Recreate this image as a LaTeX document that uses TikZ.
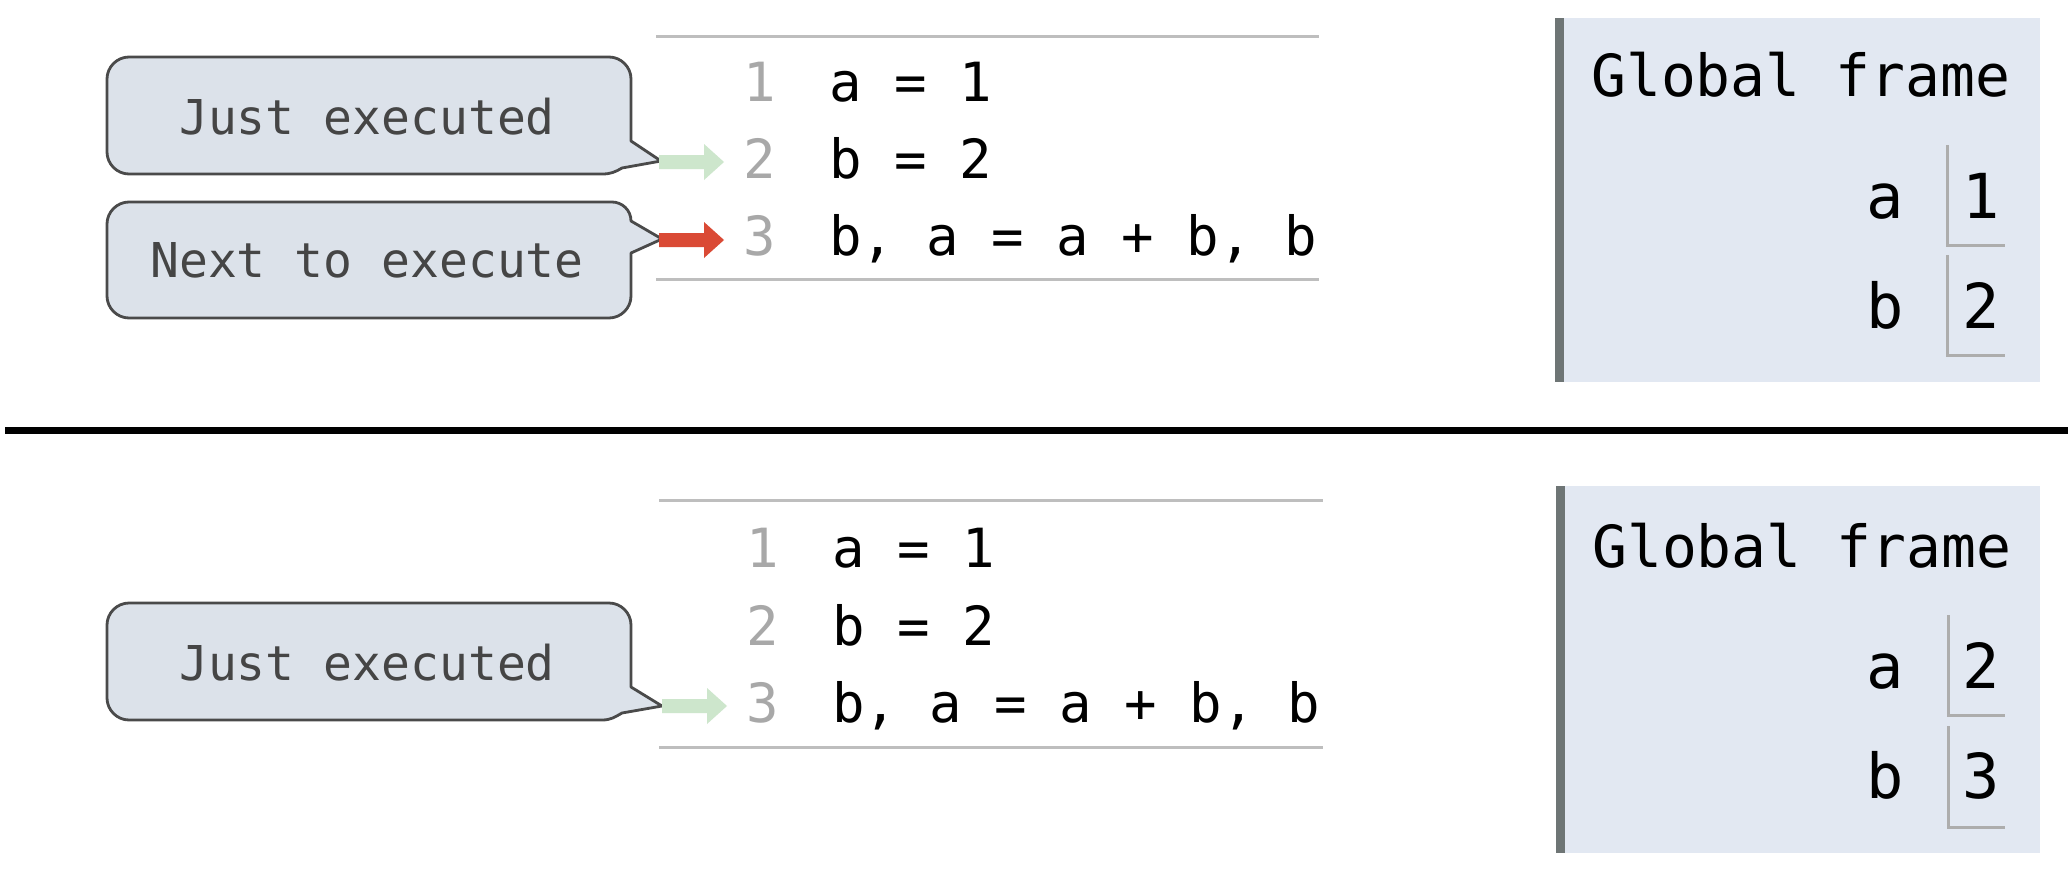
\documentclass[tikz,border=0pt]{standalone}
\usepackage{fontspec}
\newfontfamily\dvm{DejaVu Sans Mono}
\definecolor{cfill}{HTML}{DCE2EA}
\definecolor{cline}{HTML}{4A4A4A}
\definecolor{ctext}{HTML}{454545}
\definecolor{pfill}{HTML}{E2E8F2}
\definecolor{pbar}{HTML}{6E7575}
\definecolor{rule}{HTML}{BEBEBE}
\definecolor{lnumc}{HTML}{A8A8A8}
\definecolor{vline}{HTML}{ADADAD}
\definecolor{jgreen}{HTML}{CDE6CC}
\definecolor{nred}{HTML}{DA4A35}
\tikzset{
  cbox/.style={draw=cline, fill=cfill, line width=2.8pt, line join=round},
  ctxt/.style={anchor=base, inner sep=0pt, text=ctext, font=\dvm\fontsize{48}{50}\selectfont},
  code/.style={anchor=base west, inner sep=0pt, text=black, font=\dvm\fontsize{54}{56}\selectfont},
  lnum/.style={anchor=base, inner sep=0pt, text=lnumc, font=\dvm\fontsize{54}{56}\selectfont},
  coderule/.style={draw=rule, line width=3pt},
  ftitle/.style={anchor=base west, inner sep=0pt, text=black, font=\dvm\fontsize{58}{60}\selectfont},
  fvar/.style={anchor=base, inner sep=0pt, text=black, font=\dvm\fontsize{62}{64}\selectfont},
  vbox/.style={draw=vline, line width=3pt},
  blockarr/.pic={\path[pic actions] (0,-7) -- (45,-7) -- (45,-18) -- (65,0) -- (45,18) -- (45,7) -- (0,7) -- cycle;}
}
\begin{document}
\begin{tikzpicture}[x=1pt,y=-1pt]
\useasboundingbox (0,0) rectangle (2068,872);
\fill[white] (0,0) rectangle (2068,872);
\frenchspacing
% ---------------- top half ----------------
% callouts
\draw[cbox] (300,57) -- (609,57) .. controls (621,57) and (631,67) .. (631,79) -- (631,141) -- (661,161) -- (622,168) .. controls (615,172) and (611,174) .. (602,174) -- (129,174) .. controls (117,174) and (107,164) .. (107,152) -- (107,79) .. controls (107,67) and (117,57) .. (129,57) -- cycle;
\node[ctxt] (je1) at (367,135) {Just executed};
\draw[cbox] (300,202) -- (612,202) .. controls (622,202) and (631,210) .. (631,221) -- (662,239) -- (631,253) -- (631,296) .. controls (631,308) and (621,318) .. (609,318) -- (129,318) .. controls (117,318) and (107,308) .. (107,296) -- (107,224) .. controls (107,212) and (117,202) .. (129,202) -- cycle;
\node[ctxt] (ne1) at (367,277) {Next to execute};
% arrows
\pic[fill=jgreen] (ga1) at (659,162) {blockarr};
\pic[fill=nred] (ra1) at (659,240) {blockarr};
% code
\draw[coderule] (656,37) -- (1319,37);
\draw[coderule] (656,279) -- (1319,279);
\node[lnum] (tn1) at (760,102) {1};
\node[lnum] (tn2) at (760,178) {2};
\node[lnum] (tn3) at (760,255) {3};
\node[code] (tc1) at (829,102) {a = 1};
\node[code] (tc2) at (829,178) {b = 2};
\node[code] (tc3) at (829,255) {b, a = a + b, b};
% frame
\fill[pfill] (1556,18) rectangle (2040,382);
\fill[pbar] (1555,18) rectangle (1564,382);
\node[ftitle] (tg) at (1591,97) {Global frame};
\node[fvar] (tva) at (1885,218) {a};
\node[fvar] (tvb) at (1885,328) {b};
\node[fvar] (tv1) at (1981,218) {1};
\node[fvar] (tv2) at (1981,328) {2};
\draw[vbox] (1947,145) -- (1947,245) -- (2005,245);
\draw[vbox] (1947,255) -- (1947,355) -- (2005,355);
% ---------------- divider ----------------
\fill[black] (5,427) rectangle (2068,434);
% ---------------- bottom half ----------------
\draw[cbox] (300,603) -- (609,603) .. controls (621,603) and (631,613) .. (631,625) -- (631,687) -- (662,706) -- (622,713) .. controls (615,717) and (611,720) .. (602,720) -- (129,720) .. controls (117,720) and (107,710) .. (107,698) -- (107,625) .. controls (107,613) and (117,603) .. (129,603) -- cycle;
\node[ctxt] (je2) at (367,680) {Just executed};
\pic[fill=jgreen] (ga2) at (662,706) {blockarr};
\draw[coderule] (659,500) -- (1323,500);
\draw[coderule] (659,747) -- (1323,747);
\node[lnum] (bn1) at (763,567) {1};
\node[lnum] (bn2) at (763,645) {2};
\node[lnum] (bn3) at (763,722) {3};
\node[code] (bc1) at (832,567) {a = 1};
\node[code] (bc2) at (832,645) {b = 2};
\node[code] (bc3) at (832,722) {b, a = a + b, b};
\fill[pfill] (1557,486) rectangle (2040,853);
\fill[pbar] (1556,486) rectangle (1565,853);
\node[ftitle] (bg) at (1592,567) {Global frame};
\node[fvar] (bva) at (1885,688) {a};
\node[fvar] (bvb) at (1885,798) {b};
\node[fvar] (bv1) at (1981,688) {2};
\node[fvar] (bv2) at (1981,798) {3};
\draw[vbox] (1948,615) -- (1948,715) -- (2005,715);
\draw[vbox] (1948,726) -- (1948,827) -- (2005,827);
\end{tikzpicture}
\end{document}
